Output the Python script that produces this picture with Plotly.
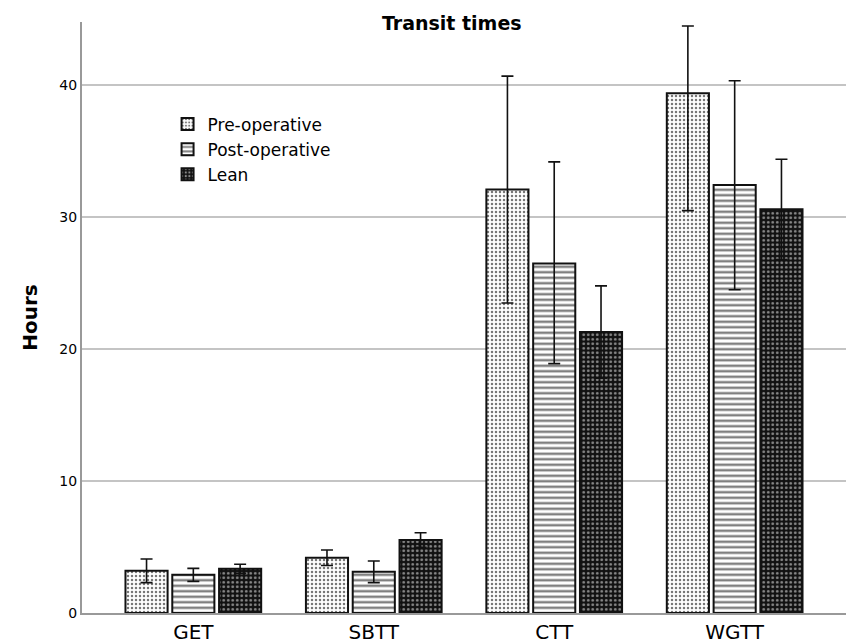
import plotly.graph_objects as go

categories = ["GET", "SBTT", "CTT", "WGTT"]
series_names = ["Pre-operative", "Post-operative", "Lean"]

pre_mean = [3.2, 4.19, 32.1, 39.4]
pre_upper = [4.09, 4.77, 40.7, 44.5]
pre_lower = [2.3, 3.6, 23.5, 30.5]

post_mean = [2.9, 3.13, 26.5, 32.45]
post_upper = [3.38, 3.94, 34.2, 40.35]
post_lower = [2.4, 2.3, 18.9, 24.5]

lean_mean = [3.36, 5.53, 21.3, 30.6]
lean_upper = [3.7, 6.08, 24.8, 34.4]
lean_lower = [3.0, 4.98, 17.8, 26.8]

y_ticks = [0, 10, 20, 30, 40]

styles = [
    dict(shape=".", bgcolor="white", fgcolor="#777777", size=4, solidity=0.3),
    dict(shape="-", bgcolor="white", fgcolor="#808080", size=5.5, solidity=0.45),
    dict(shape=".", bgcolor="#111111", fgcolor="#8a8a8a", size=4.5, solidity=0.3),
]

data = [
    (pre_mean, pre_upper, pre_lower),
    (post_mean, post_upper, post_lower),
    (lean_mean, lean_upper, lean_lower),
]

fig = go.Figure()
for name, (m, up, lo), st in zip(series_names, data, styles):
    fig.add_trace(go.Bar(
        x=categories, y=m, name=name,
        marker=dict(color=st["bgcolor"], line=dict(color="#111111", width=2),
                    pattern=dict(shape=st["shape"], bgcolor=st["bgcolor"], fgcolor=st["fgcolor"],
                                 size=st["size"], solidity=st["solidity"], fillmode="replace")),
        error_y=dict(type="data", symmetric=False,
                     array=[u - v for u, v in zip(up, m)],
                     arrayminus=[v - l for v, l in zip(m, lo)],
                     color="#111111", thickness=1.6, width=6),
    ))

fig.update_layout(
    width=846, height=644,
    margin=dict(l=82, r=0, t=22, b=31),
    paper_bgcolor="white", plot_bgcolor="white",
    barmode="group", bargap=0.222, bargroupgap=0.1,
    title=dict(text="<b>Transit times</b>", x=0.534, xanchor="center", y=0.974, yanchor="top",
               font=dict(family="DejaVu Sans", size=19, color="black")),
    legend=dict(x=0.112, y=0.857, xanchor="left", yanchor="top", bgcolor="rgba(0,0,0,0)",
                font=dict(family="DejaVu Sans", size=17, color="black"),
                itemwidth=30, tracegroupgap=0),
    showlegend=True,
    font=dict(family="DejaVu Sans", color="black"),
)
fig.update_xaxes(showline=True, linecolor="#999999", linewidth=2, ticks="", showgrid=False,
                 range=[-0.617, 3.617], automargin=False,
                 tickfont=dict(family="DejaVu Sans", size=20, color="black"))
fig.update_yaxes(range=[0, 44.8], tickvals=y_ticks, showline=True, linecolor="#999999", linewidth=2,
                 showgrid=True, gridcolor="#c4c4c4", gridwidth=1.5, ticks="", zeroline=False,
                 automargin=False,
                 tickfont=dict(family="DejaVu Sans", size=14, color="black"),
                 title=dict(text="<b>Hours</b>", font=dict(family="DejaVu Sans", size=20, color="black"),
                            standoff=16))
fig.write_html("out.html", config={"displayModeBar": False},
               post_script="document.body.style.margin='0';")
